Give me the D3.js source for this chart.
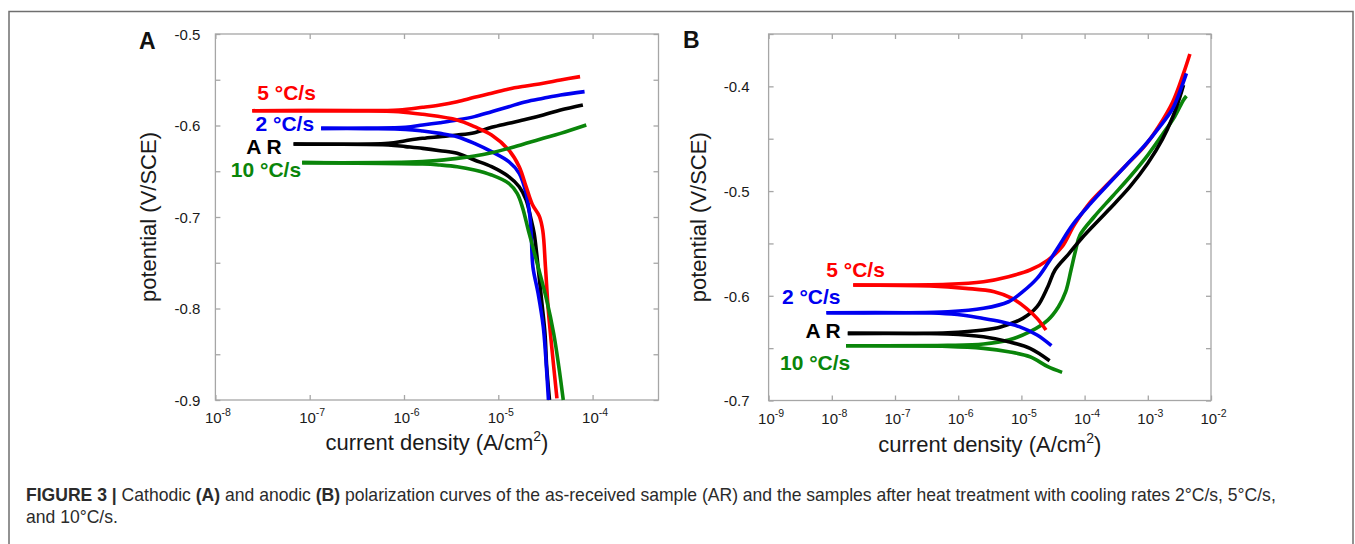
<!DOCTYPE html>
<html><head><meta charset="utf-8">
<script src="https://cdn.jsdelivr.net/npm/d3@7"></script>
<style>html,body{margin:0;padding:0;background:#fff;} svg{display:block;}</style>
</head><body>
<svg id="c" width="1355" height="544"></svg>
<script>
// ---------------- DATA (log10 of current density in A/cm², potential in V/SCE) ----------------
const seriesLabels = ["5 °C/s", "2 °C/s", "A R", "10 °C/s"];

// Panel A (cathodic) – upper and lower branches starting at the corrosion potential
const A_5_upper  = [[-7.609,-0.5838],[-6.5,-0.5836],[-6.057,-0.5830],[-5.802,-0.5801],[-5.618,-0.5776],[-5.436,-0.5740],[-5.253,-0.5692],[-5.071,-0.5648],[-4.889,-0.5601],[-4.705,-0.5568],[-4.523,-0.5539],[-4.340,-0.5503],[-4.133,-0.5466]];
const A_5_lower  = [[-7.609,-0.5838],[-6.5,-0.5840],[-6.057,-0.5849],[-5.802,-0.5878],[-5.436,-0.5940],[-5.253,-0.6013],[-5.071,-0.6104],[-4.889,-0.6268],[-4.778,-0.6450],[-4.705,-0.6668],[-4.640,-0.6860],[-4.565,-0.6990],[-4.528,-0.7150],[-4.500,-0.7543],[-4.470,-0.8016],[-4.430,-0.8454],[-4.378,-0.8982]];
const A_2_upper  = [[-6.879,-0.6031],[-6.4,-0.6028],[-5.984,-0.6020],[-5.802,-0.5995],[-5.618,-0.5969],[-5.436,-0.5940],[-5.253,-0.5903],[-5.071,-0.5849],[-4.889,-0.5794],[-4.705,-0.5740],[-4.523,-0.5703],[-4.340,-0.5667],[-4.085,-0.5630]];
const A_2_lower  = [[-6.879,-0.6031],[-6.4,-0.6035],[-5.984,-0.6042],[-5.802,-0.6060],[-5.618,-0.6086],[-5.436,-0.6122],[-5.253,-0.6195],[-5.071,-0.6286],[-4.889,-0.6395],[-4.778,-0.6523],[-4.705,-0.6741],[-4.669,-0.6960],[-4.651,-0.7178],[-4.633,-0.7543],[-4.578,-0.7834],[-4.523,-0.8199],[-4.497,-0.8527],[-4.468,-0.9000]];
const A_AR_upper = [[-7.171,-0.6202],[-6.166,-0.6195],[-5.984,-0.6166],[-5.802,-0.6140],[-5.618,-0.6122],[-5.436,-0.6104],[-5.253,-0.6078],[-5.071,-0.6020],[-4.889,-0.5976],[-4.705,-0.5933],[-4.523,-0.5885],[-4.340,-0.5831],[-4.103,-0.5776]];
const A_AR_lower = [[-7.171,-0.6202],[-6.166,-0.6213],[-5.984,-0.6231],[-5.802,-0.6250],[-5.618,-0.6275],[-5.436,-0.6304],[-5.253,-0.6377],[-5.071,-0.6450],[-4.889,-0.6559],[-4.778,-0.6669],[-4.705,-0.6814],[-4.651,-0.7033],[-4.620,-0.7178],[-4.578,-0.7543],[-4.541,-0.7907],[-4.505,-0.8271],[-4.487,-0.8636],[-4.457,-0.9000]];
const A_10_upper = [[-7.080,-0.6406],[-5.802,-0.6395],[-5.436,-0.6359],[-5.253,-0.6333],[-5.071,-0.6297],[-4.889,-0.6250],[-4.705,-0.6195],[-4.523,-0.6140],[-4.340,-0.6086],[-4.067,-0.5995]];
const A_10_lower = [[-7.080,-0.6406],[-5.802,-0.6421],[-5.618,-0.6432],[-5.436,-0.6450],[-5.253,-0.6486],[-5.071,-0.6541],[-4.889,-0.6632],[-4.800,-0.6741],[-4.742,-0.6900],[-4.680,-0.7150],[-4.578,-0.7543],[-4.487,-0.7907],[-4.413,-0.8271],[-4.358,-0.8636],[-4.311,-0.9000]];

// Panel B (anodic)
const B_5_upper  = [[-7.661,-0.5897],[-6.164,-0.5891],[-5.600,-0.5866],[-5.204,-0.5818],[-4.864,-0.5754],[-4.582,-0.5659],[-4.356,-0.5531],[-4.160,-0.5320],[-3.903,-0.5101],[-3.622,-0.4926],[-3.339,-0.4751],[-3.057,-0.4576],[-2.831,-0.4385],[-2.604,-0.4146],[-2.435,-0.3876],[-2.334,-0.3691]];
const B_5_lower  = [[-7.661,-0.5897],[-6.446,-0.5907],[-5.881,-0.5929],[-5.430,-0.5961],[-5.147,-0.6025],[-4.921,-0.6120],[-4.752,-0.6216],[-4.611,-0.6327]];
const B_2_upper  = [[-8.085,-0.6162],[-6.164,-0.6152],[-5.600,-0.6120],[-5.204,-0.6057],[-4.978,-0.5961],[-4.752,-0.5834],[-4.582,-0.5690],[-4.413,-0.5531],[-4.187,-0.5320],[-3.903,-0.5117],[-3.622,-0.4933],[-3.339,-0.4751],[-3.057,-0.4570],[-2.831,-0.4401],[-2.604,-0.4210],[-2.464,-0.4003],[-2.389,-0.3876]];
const B_2_lower  = [[-8.085,-0.6162],[-6.108,-0.6174],[-5.600,-0.6216],[-5.316,-0.6248],[-5.035,-0.6295],[-4.752,-0.6375],[-4.525,-0.6477]];
const B_AR_upper = [[-7.747,-0.6359],[-6.164,-0.6353],[-5.600,-0.6327],[-5.316,-0.6295],[-4.978,-0.6216],[-4.752,-0.6104],[-4.582,-0.5913],[-4.468,-0.5754],[-4.244,-0.5595],[-4.045,-0.5450],[-3.622,-0.5181],[-3.282,-0.4958],[-3.000,-0.4735],[-2.774,-0.4512],[-2.604,-0.4290],[-2.491,-0.4099],[-2.435,-0.3987]];
const B_AR_lower = [[-7.747,-0.6359],[-6.164,-0.6365],[-5.600,-0.6391],[-5.204,-0.6439],[-4.864,-0.6502],[-4.554,-0.6620]];
const B_10_upper = [[-7.775,-0.6477],[-6.164,-0.6474],[-5.600,-0.6461],[-5.204,-0.6423],[-4.864,-0.6343],[-4.582,-0.6232],[-4.413,-0.6104],[-4.299,-0.5961],[-4.215,-0.5754],[-4.141,-0.5563],[-4.073,-0.5420],[-3.848,-0.5245],[-3.565,-0.5054],[-3.282,-0.4863],[-3.000,-0.4656],[-2.774,-0.4465],[-2.576,-0.4290],[-2.435,-0.4130],[-2.389,-0.4092]];
const B_10_lower = [[-7.775,-0.6477],[-6.164,-0.6483],[-5.600,-0.6502],[-5.204,-0.6534],[-4.864,-0.6582],[-4.582,-0.6677],[-4.356,-0.6731]];

// Axis ticks
const xTicksA = [1e-8, 1e-7, 1e-6, 1e-5, 1e-4];
const xTicksB = [1e-9, 1e-8, 1e-7, 1e-6, 1e-5, 1e-4, 1e-3, 1e-2];
const yTicksA = [-0.9,-0.85,-0.8,-0.75,-0.7,-0.65,-0.6,-0.55,-0.5];
const yLabelsA = [-0.9,-0.8,-0.7,-0.6,-0.5];
const yTicksB = [-0.7,-0.65,-0.6,-0.55,-0.5,-0.45,-0.4,-0.35];
const yLabelsB = [-0.7,-0.6,-0.5,-0.4];

const xTitle = "current density (A/cm";
const yTitle = "potential (V/SCE)";
const captionParts1 = [
  ["FIGURE 3", true], [" | ", true], ["Cathodic ", false], ["(A)", true], [" and anodic ", false], ["(B)", true],
  [" polarization curves of the as-received sample (AR) and the samples after heat treatment with cooling rates 2°C/s, 5°C/s,", false]
];
const captionLine2 = "and 10°C/s.";

// ---------------- STYLE / LAYOUT ----------------
const colors = {"5 °C/s": "#ff0000", "2 °C/s": "#0000f0", "A R": "#000000", "10 °C/s": "#0a850a"};
const FONT = "'Liberation Sans', Arial, Helvetica, sans-serif";
const axisGray = "#a6a6a6";

const svg = d3.select("#c");
svg.append("rect").attr("width",1355).attr("height",544).attr("fill","#fff");
svg.append("path").attr("d","M9,544V11.5H1353V544").attr("fill","none").attr("stroke","#6f6f6f").attr("stroke-width",1.5);

const panels = [
  {
    letter: "A", letterX: 139, letterY: 49,
    left: 215.4, right: 658.5, top: 34, bottom: 400,
    xDomain: [1e-8, 5e-4], yDomain: [-0.9, -0.5],
    xTicks: xTicksA, yTicks: yTicksA, yLabels: yLabelsA, yLabelGap: 15,
    yTitleX: 155.5, xTitleY: 450,
    order: ["A R", "2 °C/s", "5 °C/s", "10 °C/s"],
    curves: {"5 °C/s": [A_5_upper, A_5_lower], "2 °C/s": [A_2_upper, A_2_lower], "A R": [A_AR_upper, A_AR_lower], "10 °C/s": [A_10_upper, A_10_lower]},
    labels: {"5 °C/s": ["start", 5, -10.5], "2 °C/s": ["end", -7, 2.5], "A R": ["end", -12, 10], "10 °C/s": ["end", -1, 14.5]}
  },
  {
    letter: "B", letterX: 683, letterY: 47.5,
    left: 768.6, right: 1211, top: 34, bottom: 400.5,
    xDomain: [1e-9, 1e-2], yDomain: [-0.7, -0.35],
    xTicks: xTicksB, yTicks: yTicksB, yLabels: yLabelsB, yLabelGap: 19,
    yTitleX: 706, xTitleY: 452,
    order: ["10 °C/s", "A R", "5 °C/s", "2 °C/s"],
    curves: {"5 °C/s": [B_5_upper, B_5_lower], "2 °C/s": [B_2_upper, B_2_lower], "A R": [B_AR_upper, B_AR_lower], "10 °C/s": [B_10_upper, B_10_lower]},
    labels: {"5 °C/s": ["start", -27, -8.5], "2 °C/s": ["start", -44.5, -8.4], "A R": ["end", -7, 5], "10 °C/s": ["start", -66, 24.3]}
  }
];

const near = (a, b) => Math.abs(a - b) < 1e-9;

panels.forEach(p => {
  const x = d3.scaleLog().domain(p.xDomain).range([p.left, p.right]);
  const y = d3.scaleLinear().domain(p.yDomain).range([p.bottom, p.top]);
  const g = svg.append("g");

  const styleAxis = sel => {
    sel.select(".domain").remove();
    sel.selectAll(".tick line").attr("stroke", axisGray).attr("stroke-width", 1.3);
    sel.selectAll(".tick text").remove();
  };

  const gb = g.append("g").attr("transform", `translate(0,${p.bottom})`)
    .call(d3.axisBottom(x).tickValues(p.xTicks).tickSize(-5).tickFormat("")).call(styleAxis);
  g.append("g").attr("transform", `translate(0,${p.top})`)
    .call(d3.axisTop(x).tickValues(p.xTicks).tickSize(-5).tickFormat("")).call(styleAxis);
  const gl = g.append("g").attr("transform", `translate(${p.left},0)`)
    .call(d3.axisLeft(y).tickValues(p.yTicks).tickSize(-5).tickFormat("")).call(styleAxis);
  g.append("g").attr("transform", `translate(${p.right},0)`)
    .call(d3.axisRight(y).tickValues(p.yTicks).tickSize(-5).tickFormat("")).call(styleAxis);

  g.append("rect").attr("x", p.left).attr("y", p.top)
    .attr("width", p.right - p.left).attr("height", p.bottom - p.top)
    .attr("fill", "none").attr("stroke", axisGray).attr("stroke-width", 1.3);

  // x tick labels 10^n
  gb.selectAll(".tick").each(function(v) {
    const e = Math.round(Math.log10(v));
    const t = d3.select(this).append("text")
      .attr("y", 23).attr("x", 2).attr("text-anchor", "middle")
      .attr("font-family", FONT).attr("font-size", 15).attr("fill", "#1a1a1a");
    t.append("tspan").text("10");
    t.append("tspan").attr("font-size", 10.5).attr("dy", -7).text("-" + Math.abs(e));
  });
  // y tick labels
  gl.selectAll(".tick").each(function(v) {
    if (!p.yLabels.some(l => near(l, v))) return;
    d3.select(this).append("text")
      .attr("x", -p.yLabelGap).attr("dy", "0.35em").attr("text-anchor", "end")
      .attr("font-family", FONT).attr("font-size", 15).attr("fill", "#1a1a1a")
      .text(v.toFixed(1));
  });

  // titles
  g.append("text").attr("transform", `translate(${p.yTitleX},${(p.top + p.bottom) / 2}) rotate(-90)`)
    .attr("text-anchor", "middle").attr("font-family", FONT).attr("font-size", 22).attr("fill", "#1a1a1a")
    .text(yTitle);
  const xt = g.append("text").attr("x", (p.left + p.right) / 2).attr("y", p.xTitleY)
    .attr("text-anchor", "middle").attr("font-family", FONT).attr("font-size", 22).attr("fill", "#1a1a1a");
  xt.append("tspan").text(xTitle);
  xt.append("tspan").attr("font-size", 14).attr("dy", -9).text("2");
  xt.append("tspan").attr("dy", 9).text(")");

  g.append("text").attr("x", p.letterX).attr("y", p.letterY)
    .attr("font-family", FONT).attr("font-weight", "bold").attr("font-size", 23).attr("fill", "#111")
    .text(p.letter);

  // curves
  const line = d3.line()
    .x(d => x(Math.pow(10, d[0])))
    .y(d => y(d[1]))
    .curve(d3.curveCatmullRom.alpha(0.5));

  p.order.forEach(name => {
    p.curves[name].forEach(branch => {
      g.append("path").attr("d", line(branch))
        .attr("fill", "none").attr("stroke", colors[name]).attr("stroke-width", 3.6)
        .attr("stroke-linejoin", "round").attr("stroke-linecap", "butt");
    });
  });

  // series labels placed relative to each curve's start point
  seriesLabels.forEach(name => {
    const s = p.curves[name][0][0];
    const [anchor, dx, dy] = p.labels[name];
    g.append("text")
      .attr("x", x(Math.pow(10, s[0])) + dx).attr("y", y(s[1]) + dy)
      .attr("text-anchor", anchor)
      .attr("font-family", FONT).attr("font-weight", "bold").attr("font-size", 21)
      .attr("fill", colors[name]).text(name);
  });
});

// caption
const cap = svg.append("text").attr("x", 26).attr("y", 501)
  .attr("font-family", FONT).attr("font-size", 15).attr("fill", "#2b2b2b");
captionParts1.forEach(([t, b]) => {
  cap.append("tspan").attr("font-weight", b ? "bold" : "normal").text(t);
});
const w = cap.node().getComputedTextLength();
const fs = 15 * 1250 / w;
cap.attr("font-size", fs);
svg.append("text").attr("x", 26).attr("y", 523)
  .attr("font-family", FONT).attr("font-size", fs).attr("fill", "#2b2b2b").text(captionLine2);
</script>
</body></html>
